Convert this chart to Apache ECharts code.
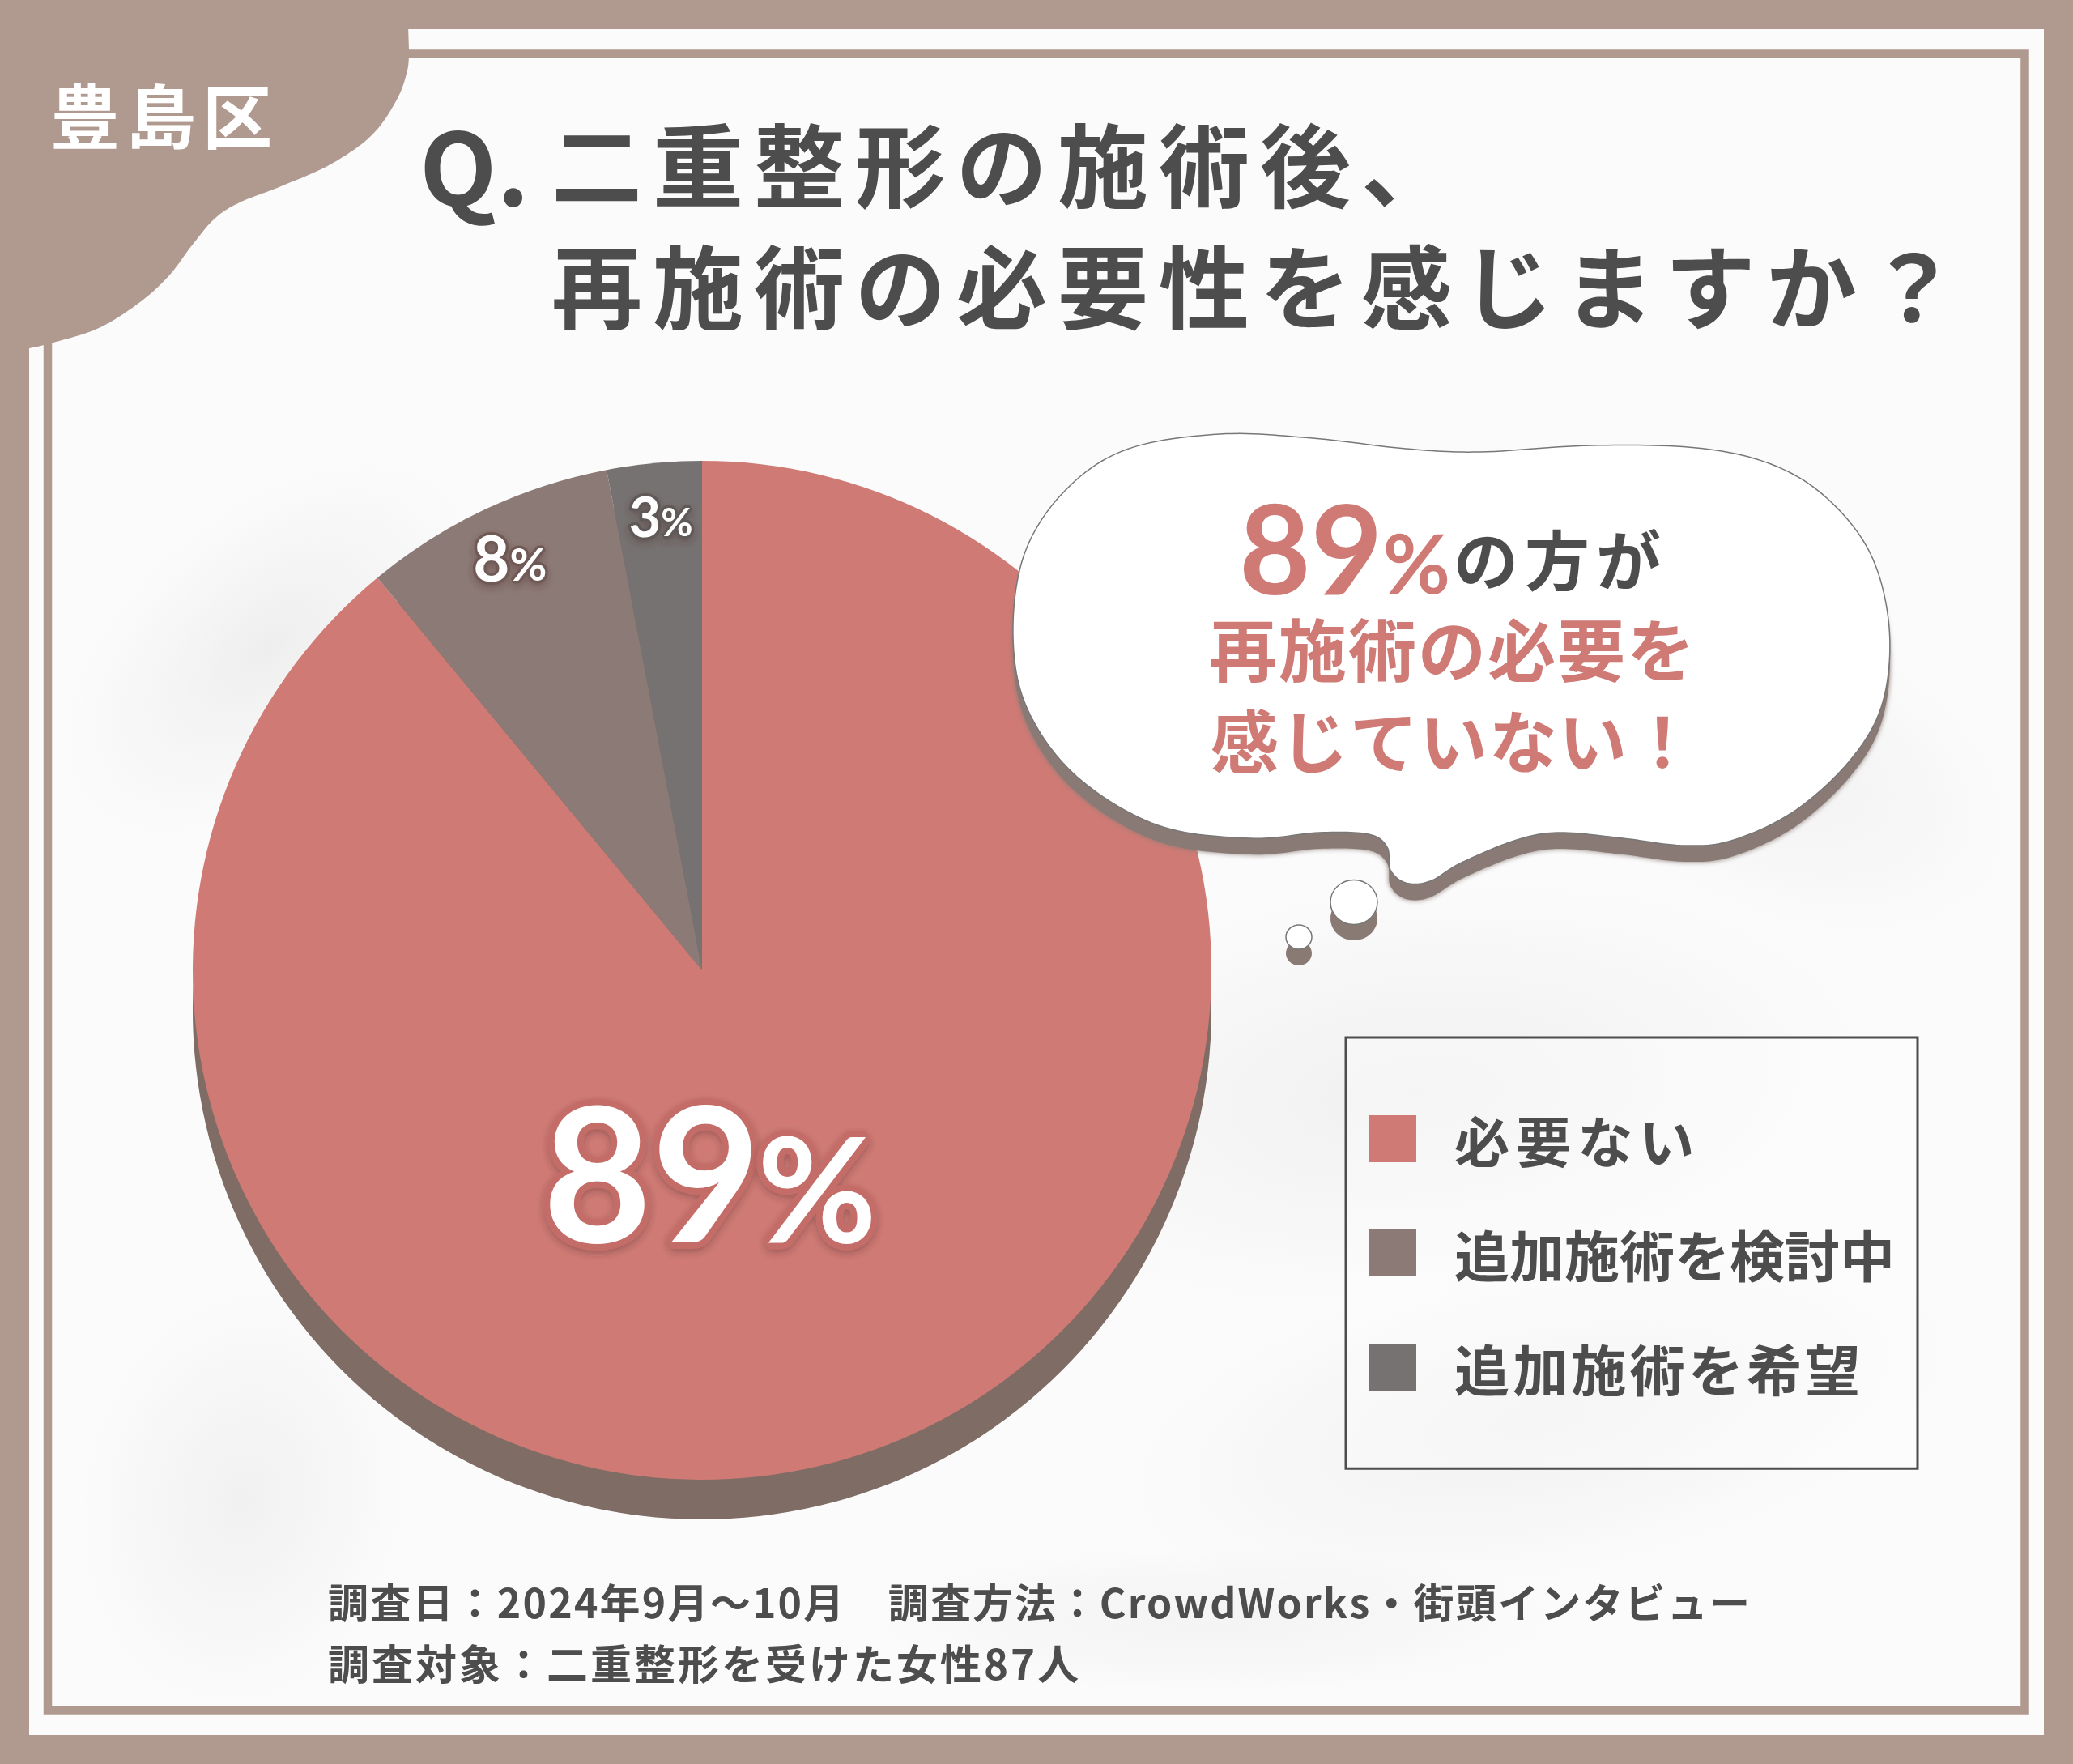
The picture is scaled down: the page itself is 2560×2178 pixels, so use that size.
<!DOCTYPE html>
<html lang="ja"><head><meta charset="utf-8">
<style>
html,body{margin:0;padding:0;background:#b0998f}
#c{width:2560px;height:2178px}
#c text[style*="112px"]{letter-spacing:13px}
#c text[style*="86px"]{letter-spacing:8px}
#c text[style*="80px"]{letter-spacing:8px}
#c text[style*="84px"]{letter-spacing:2px}
#c text[style*="50px"]{letter-spacing:2.2px}
#c text[style*="51px"]{letter-spacing:3px}
#c text[style*="68.1px"]{letter-spacing:8px}
#c text[style*="68.2px"]{letter-spacing:4px}
</style>
<script src="https://cdn.jsdelivr.net/npm/echarts@6/dist/echarts.min.js"></script>
</head><body><div id="c"></div>
<script>
const categories = ['必要ない', '追加施術を検討中', '追加施術を希望'];
const values = [89, 8, 3];
const ward = '豊島区';
const questionMark = 'Q.';
const titleLine1 = '二重整形の施術後、';
const titleLine2 = '再施術の必要性を感じますか？';
const bubbleTail = 'の方が';
const bubbleLine2 = '再施術の必要を';
const bubbleLine3 = '感じていない！';
const footLine1 = '調査日：2024年9月〜10月　調査方法：CrowdWorks・街頭インタビュー';
const footLine2 = '調査対象：二重整形を受けた女性87人';

const FRAME = '#b0998f', INK = '#4d4d4d', PINK = '#cf7a75';
const sliceColors = [PINK, '#8c7a76', '#767271'];
const legendSizes = [68.1, 68, 68.2];
const num = 'Lato', jp = '"Noto Sans CJK JP"';

const tagCurve = [[505,62],[503,87],[490,123],[459,167],[408,203],[347,230],[296,250],[265,270],[237,303],[209,340],[173,373],[122,405],[66,423],[36,430]];
const bubbleOutline = [[1251,785],[1265,684],[1315,606],[1391,555],[1506,536],[1621,541],[1736,554],[1828,558],[1965,550],[2095,553],[2187,573],[2256,615],[2310,684],[2333,775],[2325,867],[2287,936],[2218,1000],[2141,1037],[2080,1044],[2004,1035],[1927,1028],[1873,1037],[1805,1065],[1766,1088],[1736,1090],[1717,1074],[1713,1046],[1690,1030],[1629,1028],[1544,1035],[1430,1019],[1330,959],[1269,876]];
const SH = 20;
function spline(pts, closed){
  const n = pts.length, at = i => closed ? pts[(i+n)%n] : pts[Math.max(0,Math.min(n-1,i))];
  const out = [];
  const end = closed ? n : n-1;
  for(let i=0;i<end;i++){
    const p0=at(i-1),p1=at(i),p2=at(i+1),p3=at(i+2);
    for(let k=0;k<14;k++){
      const t=k/14,t2=t*t,t3=t2*t;
      const f=j=>.5*(2*p1[j]+(p2[j]-p0[j])*t+(2*p0[j]-5*p1[j]+4*p2[j]-p3[j])*t2+(3*p1[j]-p0[j]-3*p2[j]+p3[j])*t3);
      out.push([f(0),f(1)]);
    }
  }
  if(!closed) out.push(pts[n-1]);
  return out;
}
const bubblePts = spline(bubbleOutline,true);
const tagPts = [[0,0],[503,0]].concat(spline(tagCurve,false),[[0,430]]);
const puff = (cx,cy,rx,ry,z,fill,stroke)=>({type:'ellipse',z,shape:{cx,cy,rx,ry},style:{fill,stroke,lineWidth:stroke?1.5:0}});
const fold = (cx,cy,rx,ry,rot,c)=>({type:'ellipse',z:-8,x:cx,y:cy,rotation:rot,shape:{cx:0,cy:0,rx,ry},style:{fill:{type:'radial',x:.5,y:.5,r:.5,colorStops:[{offset:0,color:c},{offset:1,color:'rgba(240,240,240,0)'}]}}});

const labelFonts = [[232,180,700,16,'#c46d68',40],[78,56,700,7,'#6f5a56',16],[68,48,700,7,'#5f5a59',14]];
const labelShift = [[-96,-53],[-102,-223],[-21,-245]];

const pieData = categories.map((name,i)=>{
  const f = labelFonts[i];
  const tok = (size,pad)=>({fontFamily:num,fontSize:size,fontWeight:f[2],color:'#fff',padding:[pad,0,0,0],textBorderColor:f[4],textBorderWidth:f[3],textShadowColor:'rgba(70,40,40,.35)',textShadowBlur:10,textShadowOffsetY:4});
  return {name,value:values[i],itemStyle:{color:sliceColors[i]},label:{rich:{n:tok(f[0],0),p:tok(f[1],f[5])}}};
});

const chart = echarts.init(document.getElementById('c'),null,{renderer:'svg',width:2560,height:2178});
const tt = (text,left,top,size,color,weight,extra)=>({text,left,top,padding:0,z:30,textStyle:Object.assign({fontFamily:jp,fontSize:size,fontWeight:weight,color},extra||{})});
chart.setOption({
  animation:false,
  backgroundColor:FRAME,
  title:[
    tt(ward,62,96,86,'#fff',700),
    tt(questionMark,518,138,124,INK,700),
    tt(titleLine1,681,143,112,INK,700),
    tt(titleLine2,681,293,112,INK,700),
    {text:'{a|'+values[0]+'}{b|%}',left:1530,top:615,padding:0,z:30,textStyle:{rich:{a:{fontFamily:num,fontSize:153,lineHeight:120,fontWeight:700,color:PINK},b:{fontFamily:num,fontSize:102,lineHeight:80,padding:[36,0,0,0],fontWeight:700,color:PINK}}}},
    tt(bubbleTail,1795,647,80,INK,700),
    tt(bubbleLine2,1493,756,84,PINK,700),
    tt(bubbleLine3,1495,869,84,PINK,700),
    tt(footLine1,405,1951,50,INK,700),
    tt(footLine2,405,2026,51,INK,700)
  ],
  legend:{
    show:true,data:categories.map((name,i)=>({name,textStyle:{fontSize:legendSizes[i]}})),orient:'vertical',left:1662,top:1281,
    padding:[91,28,91,29],
    itemWidth:58,itemHeight:58,itemGap:73,icon:'rect',
    backgroundColor:'rgba(255,255,255,.35)',borderColor:INK,borderWidth:3,
    selectedMode:false,
    textStyle:{fontFamily:jp,fontSize:68,fontWeight:700,color:INK,padding:[0,0,0,42]}
  },
  graphic:[
    {type:'rect',z:-10,shape:{x:36,y:36,width:2488,height:2106},style:{fill:'#fbfbfb'}},
    fold(330,800,300,170,.7,'#eeeeee'),
    fold(1750,1350,560,260,.1,'#f0f0f0'),
    fold(1900,1750,520,200,.2,'#f1f1f1'),
    fold(2200,950,300,180,-.4,'#f3f3f3'),
    fold(300,1850,200,260,-.2,'#f1f1f1'),
    fold(1500,2000,420,90,0,'#f4f4f4'),
    {type:'rect',z:-5,shape:{x:59,y:66.5,width:2441.5,height:2045},style:{fill:'transparent',stroke:FRAME,lineWidth:10.5}},
    {type:'polygon',z:-4,shape:{points:tagPts},style:{fill:FRAME}},
    {type:'polygon',z:18,shape:{points:bubblePts.map(p=>[p[0],p[1]+SH])},style:{fill:'#8a7a74',shadowBlur:6,shadowColor:'#8a7a74'}},
    {type:'polygon',z:20,shape:{points:bubblePts},style:{fill:'#fff',stroke:'#777',lineWidth:1.5}},
    puff(1672,1114+SH,29,27,18,'#8a7a74'),
    puff(1604,1157+SH,16,15,18,'#8a7a74'),
    puff(1672,1114,29,27.5,20,'#fff','#777'),
    puff(1604,1157,16,15,20,'#fff','#777')
  ],
  series:[
    {type:'pie',z:3,center:[867,1198],radius:[0,629],startAngle:90,clockwise:true,silent:true,
     avoidLabelOverlap:false,
     label:{show:true,position:'inside',formatter:p=>'{n|'+p.value+'}{p|%}'},
     labelLine:{show:false},
     labelLayout:p=>({dx:labelShift[p.dataIndex][0],dy:labelShift[p.dataIndex][1]}),
     emphasis:{disabled:true},data:pieData},
    {type:'pie',z:2,center:[867,1247],radius:[0,629],startAngle:90,silent:true,
     label:{show:false},labelLine:{show:false},emphasis:{disabled:true},
     itemStyle:{color:'#7f6c64'},
     data:values.map(v=>({value:v,name:'影'}))}
  ]
});
</script></body></html>
